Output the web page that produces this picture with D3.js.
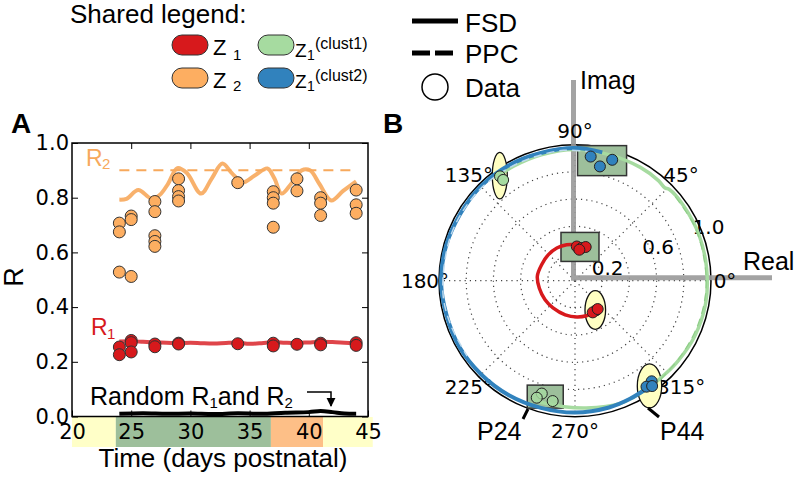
<!DOCTYPE html>
<html>
<head>
<meta charset="utf-8">
<script src="https://cdn.jsdelivr.net/npm/d3@7"></script>
<style>
  body { margin: 0; background: #fff; }
  svg { display: block; }
</style>
</head>
<body>
<div id="chart"></div>
<script>
// ---------- data: panel A ----------
const xTicks = [20, 25, 30, 35, 40, 45];
const yTicks = [0, 0.2, 0.4, 0.6, 0.8, 1.0];

// R2 measurements (orange dots)
const r2Day = [24, 24, 24, 25, 25, 25, 27, 27, 27, 27, 27, 29, 29, 29, 29, 34, 37, 37, 37, 37, 39, 39, 41, 41, 41, 44, 44, 44];
const r2Val = [0.707, 0.675, 0.528, 0.733, 0.72, 0.512, 0.786, 0.749, 0.661, 0.64, 0.622, 0.869, 0.826, 0.804, 0.788, 0.855, 0.822, 0.8, 0.78, 0.692, 0.869, 0.825, 0.80, 0.78, 0.735, 0.828, 0.774, 0.743];

// R1 measurements (red dots)
const r1Day = [24, 24, 25, 25, 25, 27, 27, 29, 29, 34, 37, 37, 39, 41, 41, 44, 44];
const r1Val = [0.254, 0.226, 0.278, 0.27, 0.236, 0.265, 0.255, 0.268, 0.265, 0.266, 0.268, 0.258, 0.264, 0.268, 0.262, 0.27, 0.26];

// FSD model curves
const fsdR2Day = [24, 24.6, 25.6, 26.7, 27.4, 28.1, 28.9, 29.7, 30.9, 31.8, 32.7, 33.5, 34.4, 35.4, 36.5, 37.1, 37.7, 38.5, 39.4, 40.1, 40.9, 41.9, 42.9, 44];
const fsdR2Val = [0.793, 0.796, 0.828, 0.797, 0.81, 0.85, 0.908, 0.89, 0.815, 0.87, 0.925, 0.89, 0.856, 0.88, 0.907, 0.87, 0.815, 0.85, 0.9, 0.9, 0.85, 0.79, 0.825, 0.86];
const fsdR1Day = [24, 25, 26, 27, 28, 29, 30, 31, 32, 33, 34, 35, 36, 37, 38, 39, 40, 41, 42, 43, 44];
const fsdR1Val = [0.274, 0.275, 0.273, 0.271, 0.27, 0.268, 0.27, 0.268, 0.267, 0.269, 0.27, 0.266, 0.268, 0.272, 0.27, 0.269, 0.271, 0.273, 0.272, 0.27, 0.268];

// PPC level for R2 (dashed)
const ppcR2Day = [24, 44];
const ppcR2Val = [0.9, 0.9];

// random R1 / R2
const randDay = [24, 26, 28, 30, 32, 34, 36, 38, 40, 41, 42, 43, 44];
const randVal = [0.01, 0.012, 0.01, 0.011, 0.009, 0.012, 0.01, 0.014, 0.016, 0.02, 0.016, 0.011, 0.01];

// age bands under the time axis
const bandStart = [20, 23.7, 36.8, 41.2];
const bandEnd = [23.7, 36.8, 41.2, 45.4];
const bandColor = ["#ffffc8", "#9dbf9b", "#fdbf87", "#ffffc8"];

// ---------- data: panel B (angle in degrees, radius) ----------
const rTicks = [0.2, 0.4, 0.6, 0.8];
const rLabels = [0.2, 0.6, 1.0];
const angTicks = [0, 45, 90, 135, 180, 225, 270, 315];

const blueP24Ang = [82.8, 77.7, 72.9];
const blueP24R = [0.92, 0.86, 0.93];
const blueP44Ang = [307.3, 304, 306.2];
const blueP44R = [0.93, 0.94, 0.96];
const greenP24Ang = [253.6, 251.9, 259.5];
const greenP24R = [0.865, 0.905, 0.90];
const greenP44Ang = [125.7, 125.5];
const greenP44R = [0.945, 0.91];
const redP24Ang = [87, 78.4, 72.4, 82];
const redP24R = [0.252, 0.246, 0.26, 0.23];
const redP44Ang = [305.3, 299.2, 308.7];
const redP44R = [0.267, 0.267, 0.267];

const blueFsdAng = [78, 90, 105, 120, 135, 150, 165, 180, 195, 210, 225, 240, 255, 270, 285, 295, 305];
const blueFsdR = [0.965, 0.975, 0.972, 0.978, 0.98, 0.976, 0.982, 0.985, 0.978, 0.98, 0.975, 0.972, 0.968, 0.97, 0.965, 0.958, 0.952];
const blueExtAng = [82, 95, 110, 125, 140, 160, 185, 200, 215];
const blueExtR = [0.955, 0.962, 0.958, 0.963, 0.97, 0.972, 0.975, 0.97, 0.968];

const greenFsdAng = [127, 118, 105, 90, 75, 60, 50, 46, 44, 35, 20, 5, -10, -25, -38, -45, -55, -70, -85, -95, -101, -106];
const greenFsdR = [0.955, 0.955, 0.958, 0.965, 0.96, 0.962, 0.958, 0.95, 0.965, 0.97, 0.972, 0.972, 0.975, 0.97, 0.96, 0.955, 0.955, 0.962, 0.94, 0.93, 0.925, 0.93];
const greenExtAng = [40, 25, 10, -5, -20, -35, -50];
const greenExtR = [0.962, 0.965, 0.962, 0.965, 0.96, 0.955, 0.962];

const redFsdAng = [87, 103, 119, 136, 154, 173, 192, 212, 231, 254, 273, 288, 300];
const redFsdR = [0.265, 0.272, 0.275, 0.274, 0.272, 0.279, 0.268, 0.261, 0.257, 0.261, 0.267, 0.271, 0.269];

// P24 boxes and P44 ellipses (centres in polar coords)
const boxAng = [77.3, 81.6, 255.6];
const boxR = [0.905, 0.251, 0.88];
const ellAng = [125.6, 304.7, 305.3];
const ellR = [0.95, 0.262, 0.948];

// ---------- drawing ----------
const W = 798, H = 480;
const svg = d3.select("#chart").append("svg")
  .attr("width", W).attr("height", H)
  .style("font-family", "'Liberation Sans', Arial, sans-serif");

const red = "#d7191c", orange = "#fdae61", green = "#a6dba0", blue = "#3182bd";
const orangeLine = "#f7a95c";
const zip = (a, b) => a.map((v, i) => [v, b[i]]);

// text with a subscript, placed by hand
function sub(x, y, big, small, bs, ss, dx, dy, fill = "#000") {
  svg.append("text").attr("x", x).attr("y", y).attr("font-size", bs).attr("fill", fill).text(big);
  svg.append("text").attr("x", x + dx).attr("y", y + dy).attr("font-size", ss).attr("fill", fill).text(small);
}

// ===== legend =====
svg.append("text").attr("x", 70).attr("y", 23).attr("font-size", 26).text("Shared legend:");

const pills = [
  { x: 172, y: 35, c: red }, { x: 172, y: 68, c: orange },
  { x: 258, y: 35, c: green }, { x: 258, y: 68, c: blue }
];
svg.selectAll("rect.pill").data(pills).join("rect")
  .attr("class", "pill")
  .attr("x", d => d.x).attr("y", d => d.y)
  .attr("width", 36).attr("height", 20).attr("rx", 10)
  .attr("fill", d => d.c).attr("stroke", "#333").attr("stroke-width", 1);

sub(213, 55, "Z", "1", 22, 15, 20, 5);
sub(213, 88, "Z", "2", 22, 15, 20, 3);
sub(295, 57, "Z", "1", 19, 14, 12, 3);
svg.append("text").attr("x", 315).attr("y", 49).attr("font-size", 16).text("(clust1)");
sub(295, 88, "Z", "1", 19, 14, 12, 3);
svg.append("text").attr("x", 315).attr("y", 81).attr("font-size", 16).text("(clust2)");

// line-style legend
svg.append("line").attr("x1", 412).attr("x2", 458).attr("y1", 21).attr("y2", 21)
  .attr("stroke", "#000").attr("stroke-width", 5);
svg.append("line").attr("x1", 412).attr("x2", 458).attr("y1", 53).attr("y2", 53)
  .attr("stroke", "#000").attr("stroke-width", 5).attr("stroke-dasharray", "18,5");
svg.append("circle").attr("cx", 435).attr("cy", 87).attr("r", 13)
  .attr("fill", "#fff").attr("stroke", "#000").attr("stroke-width", 1.5);
[["FSD", 32], ["PPC", 63], ["Data", 97]].forEach(([t, yy]) =>
  svg.append("text").attr("x", 465).attr("y", yy).attr("font-size", 26).text(t));

// ===== panel A =====
const x = d3.scaleLinear().domain([20, 45]).range([72, 368]);
const y = d3.scaleLinear().domain([0, 1]).range([416.5, 143]);

svg.append("text").attr("x", 11).attr("y", 133).attr("font-size", 28).attr("font-weight", "bold").text("A");

// bands
svg.selectAll("rect.band").data(bandStart).join("rect")
  .attr("class", "band")
  .attr("x", d => x(d)).attr("width", (d, i) => x(bandEnd[i]) - x(d))
  .attr("y", 417).attr("height", 30)
  .attr("fill", (d, i) => bandColor[i]);

const gA = svg.append("g");
const tickFont = "'DejaVu Sans', sans-serif";

const axL = gA.append("g").attr("transform", `translate(${x.range()[0]},0)`)
  .call(d3.axisLeft(y).tickValues(yTicks).tickFormat(d3.format(".1f")).tickSizeInner(-6).tickSizeOuter(0).tickPadding(3));
const axR = gA.append("g").attr("transform", `translate(${x.range()[1]},0)`)
  .call(d3.axisRight(y).tickValues(yTicks).tickFormat("").tickSizeInner(-6).tickSizeOuter(0));
const axT = gA.append("g").attr("transform", `translate(0,${y.range()[1]})`)
  .call(d3.axisTop(x).tickValues(xTicks.slice(1, -1)).tickFormat("").tickSizeInner(-6).tickSizeOuter(0));
const axB = gA.append("g").attr("transform", `translate(0,${y.range()[0]})`)
  .call(d3.axisBottom(x).tickValues(xTicks).tickSizeInner(-6).tickSizeOuter(0).tickPadding(8));
[axL, axR, axT, axB].forEach(a => {
  a.select(".domain").remove();
  a.selectAll("line").attr("stroke", "#000").attr("stroke-width", 1);
  a.selectAll("text").attr("font-family", tickFont).attr("font-size", 21).attr("fill", "#000");
});

// frame
gA.append("rect").attr("x", 72).attr("y", 143).attr("width", 296).attr("height", 273.5)
  .attr("fill", "none").attr("stroke", "#000").attr("stroke-width", 1.5);

const lineA = d3.line().x(d => x(d[0])).y(d => y(d[1])).curve(d3.curveCatmullRom);

gA.append("path").datum(zip(ppcR2Day, ppcR2Val)).attr("d", d3.line().x(d => x(d[0])).y(d => y(d[1])))
  .attr("fill", "none").attr("stroke", orangeLine).attr("stroke-width", 2).attr("stroke-dasharray", "10,7");
gA.append("path").datum(zip(fsdR2Day, fsdR2Val)).attr("d", lineA)
  .attr("fill", "none").attr("stroke", orangeLine).attr("stroke-width", 4).attr("opacity", 0.9);
gA.append("path").datum(zip(fsdR1Day, fsdR1Val)).attr("d", lineA)
  .attr("fill", "none").attr("stroke", "#d9252a").attr("stroke-width", 4).attr("opacity", 0.85);
gA.append("path").datum(zip(randDay, randVal)).attr("d", lineA)
  .attr("fill", "none").attr("stroke", "#000").attr("stroke-width", 4);

gA.selectAll("circle.r2").data(zip(r2Day, r2Val)).join("circle")
  .attr("class", "r2").attr("cx", d => x(d[0])).attr("cy", d => y(d[1])).attr("r", 6)
  .attr("fill", orange).attr("stroke", "#333").attr("stroke-width", 1);
gA.selectAll("circle.r1").data(zip(r1Day, r1Val)).join("circle")
  .attr("class", "r1").attr("cx", d => x(d[0])).attr("cy", d => y(d[1])).attr("r", 6)
  .attr("fill", red).attr("stroke", "#333").attr("stroke-width", 1);

// curve labels
sub(86, 166, "R", "2", 23, 15, 16, 3, orangeLine);
sub(91, 335, "R", "1", 23, 15, 16, 4, red);

// random label + arrow
const rt = gA.append("text").attr("x", 90).attr("y", 405).attr("font-size", 25);
rt.append("tspan").text("Random R");
rt.append("tspan").attr("font-size", 15).attr("dy", 3).text("1");
rt.append("tspan").attr("dy", -3).text("and R");
rt.append("tspan").attr("font-size", 15).attr("dy", 3).text("2");
svg.append("defs").append("marker").attr("id", "arr").attr("viewBox", "0 0 10 10")
  .attr("refX", 9).attr("refY", 5).attr("markerWidth", 6).attr("markerHeight", 8).attr("orient", "auto")
  .append("path").attr("d", "M0,0L10,5L0,10z").attr("fill", "#000");
gA.append("path").attr("d", "M307,392H331V406").attr("fill", "none").attr("stroke", "#000")
  .attr("stroke-width", 1.5).attr("marker-end", "url(#arr)");

svg.append("text").attr("x", 223).attr("y", 467).attr("text-anchor", "middle").attr("font-size", 26)
  .text("Time (days postnatal)");
svg.append("text").attr("transform", "translate(23,277) rotate(-90)").attr("text-anchor", "middle")
  .attr("font-size", 27).text("R");

// ===== panel B =====
svg.append("text").attr("x", 383).attr("y", 133).attr("font-size", 28).attr("font-weight", "bold").text("B");

const cx = 575, cy = 280.7;
const rs = d3.scaleLinear().domain([0, 1]).range([0, 136]);
const toRad = d => d * Math.PI / 180;
const px = (a, r) => cx + rs(r) * Math.cos(toRad(a));
const py = (a, r) => cy - rs(r) * Math.sin(toRad(a));
const gB = svg.append("g");

// grid
gB.selectAll("circle.grid").data(rTicks).join("circle")
  .attr("class", "grid").attr("cx", cx).attr("cy", cy).attr("r", d => rs(d))
  .attr("fill", "none").attr("stroke", "#444").attr("stroke-width", 1.2).attr("stroke-dasharray", "1.2,4");
gB.selectAll("line.spoke").data(angTicks).join("line")
  .attr("class", "spoke").attr("x1", cx).attr("y1", cy)
  .attr("x2", d => px(d, 1)).attr("y2", d => py(d, 1))
  .attr("stroke", "#444").attr("stroke-width", 1.2).attr("stroke-dasharray", "1.2,4");
gB.append("circle").attr("cx", cx).attr("cy", cy).attr("r", rs(1))
  .attr("fill", "none").attr("stroke", "#000").attr("stroke-width", 1.5);

// gray real / imag axes
gB.append("path").attr("d", `M${cx - 1.5},80V${cy}M${cx - 4},${cy - 3}H772`)
  .attr("fill", "none").attr("stroke", "#999").attr("stroke-width", 5).attr("opacity", 0.9);
gB.append("text").attr("x", 580).attr("y", 89).attr("font-size", 25).text("Imag");
gB.append("text").attr("x", 743).attr("y", 270).attr("font-size", 25).text("Real");

// labels
gB.selectAll("text.ang").data(angTicks).join("text")
  .attr("class", "ang").attr("x", d => px(d, 150 / 136)).attr("y", d => py(d, 150 / 136))
  .attr("text-anchor", "middle").attr("dy", "0.36em")
  .attr("font-family", tickFont).attr("font-size", 20).text(d => d + "°");
gB.selectAll("text.rlab").data(rLabels).join("text")
  .attr("class", "rlab").attr("x", d => cx + (rs(d) + 8) * Math.cos(toRad(22))).attr("y", d => cy - (rs(d) + 8) * Math.sin(toRad(22)))
  .attr("text-anchor", "middle").attr("dy", "0.36em")
  .attr("font-family", tickFont).attr("font-size", 20).text(d => d.toFixed(1));

// P24 boxes
const boxW = [49, 38, 36], boxH = [30, 29, 23];
gB.selectAll("rect.box").data(boxAng).join("rect")
  .attr("class", "box")
  .attr("x", (d, i) => px(d, boxR[i]) - boxW[i] / 2).attr("y", (d, i) => py(d, boxR[i]) - boxH[i] / 2)
  .attr("width", (d, i) => boxW[i]).attr("height", (d, i) => boxH[i])
  .attr("fill", "#9dbf9b").attr("stroke", "#333").attr("stroke-width", 1.5);
// P44 ellipses
const ellRx = [7.5, 10.3, 12.2], ellRy = [23.3, 19.3, 22];
gB.selectAll("ellipse.ell").data(ellAng).join("ellipse")
  .attr("class", "ell")
  .attr("cx", (d, i) => px(d, ellR[i])).attr("cy", (d, i) => py(d, ellR[i]))
  .attr("rx", (d, i) => ellRx[i]).attr("ry", (d, i) => ellRy[i])
  .attr("fill", "#ffffc2").attr("stroke", "#111").attr("stroke-width", 1.3);

// trajectories
const radial = d3.lineRadial().angle(d => toRad(90 - d[0])).radius(d => rs(d[1])).curve(d3.curveCatmullRom);
const gC = gB.append("g").attr("transform", `translate(${cx},${cy})`);
gC.append("path").datum(zip(greenFsdAng, greenFsdR)).attr("d", radial)
  .attr("fill", "none").attr("stroke", green).attr("stroke-width", 3.5);
gC.append("path").datum(zip(greenExtAng, greenExtR)).attr("d", radial)
  .attr("fill", "none").attr("stroke", "#8fcf88").attr("stroke-width", 1.2).attr("stroke-dasharray", "8,5");
gC.append("path").datum(zip(blueFsdAng, blueFsdR)).attr("d", radial)
  .attr("fill", "none").attr("stroke", blue).attr("stroke-width", 4);
gC.append("path").datum(zip(blueExtAng, blueExtR)).attr("d", radial)
  .attr("fill", "none").attr("stroke", "#bcd9ee").attr("stroke-width", 1.5).attr("stroke-dasharray", "8,5");
gC.append("path").datum(zip(redFsdAng, redFsdR)).attr("d", radial)
  .attr("fill", "none").attr("stroke", red).attr("stroke-width", 3.5);

// data points
function dots(ang, rr, fill, op) {
  gB.append("g").selectAll("circle").data(zip(ang, rr)).join("circle")
    .attr("cx", d => px(d[0], d[1])).attr("cy", d => py(d[0], d[1])).attr("r", 5.5)
    .attr("fill", fill).attr("fill-opacity", op).attr("stroke", "#222").attr("stroke-width", 1);
}
dots(blueP24Ang, blueP24R, blue, 1);
dots(blueP44Ang, blueP44R, blue, 1);
dots(greenP24Ang, greenP24R, green, 0.8);
dots(greenP44Ang, greenP44R, green, 1);
dots(redP24Ang, redP24R, red, 1);
dots(redP44Ang, redP44R, red, 1);

// P24 / P44 pointers
gB.append("line").attr("x1", 523).attr("y1", 419).attr("x2", 528).attr("y2", 409)
  .attr("stroke", "#000").attr("stroke-width", 3);
gB.append("line").attr("x1", 648).attr("y1", 408).attr("x2", 659).attr("y2", 417)
  .attr("stroke", "#000").attr("stroke-width", 3);
gB.append("text").attr("x", 477).attr("y", 440).attr("font-size", 25).text("P24");
gB.append("text").attr("x", 660).attr("y", 440).attr("font-size", 25).text("P44");
</script>
</body>
</html>
